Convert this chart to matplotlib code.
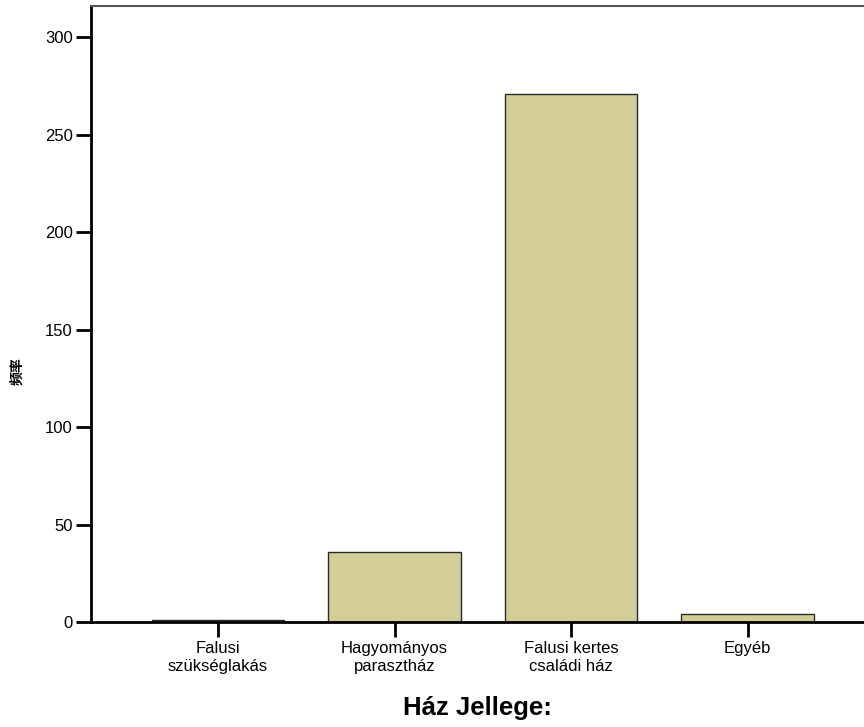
import numpy as np
import matplotlib.pyplot as plt

plt.rcParams['font.family'] = ['Liberation Sans', 'Noto Sans CJK SC', 'DejaVu Sans']

categories = ['Falusi\nszükséglakás', 'Hagyományos\nparaszth\u00e1z', 'Falusi kertes\ncsaládi ház', 'Egyéb']
counts = [1, 36, 271, 4]
yticks = [0, 50, 100, 150, 200, 250, 300]

fig = plt.figure(figsize=(8.64, 7.27), dpi=100)
ax = fig.add_axes([0.1053, 0.1444, 0.8947, 0.8473])

x = np.arange(len(categories))
ax.bar(x, counts, width=0.75, color='#d3ce97', edgecolor='#2a2a2a', linewidth=1.0, zorder=2)

ax.set_xlim(-0.72, 3.66)
ax.set_ylim(0, 316)
ax.set_yticks(yticks)
ax.set_xticks(x)
ax.set_xticklabels(categories, fontsize=12, linespacing=1.2)
ax.tick_params(axis='y', labelsize=12, length=11, width=2, direction='out', pad=2)
ax.tick_params(axis='x', length=11, width=2, direction='out', pad=3)

ax.spines['left'].set_linewidth(2)
ax.spines['bottom'].set_linewidth(2)
ax.spines['top'].set_linewidth(1.5)
ax.spines['top'].set_color('#555555')
ax.spines['right'].set_visible(False)

ax.set_xlabel('Ház Jellege:', fontsize=18.5, fontweight='bold', labelpad=16)
ax.set_ylabel('频率', fontsize=10, fontweight='bold', family=['Noto Sans CJK SC', 'DejaVu Sans'])
ax.yaxis.set_label_coords(-0.086, 0.408)

fig.savefig('out.png', dpi=100)
